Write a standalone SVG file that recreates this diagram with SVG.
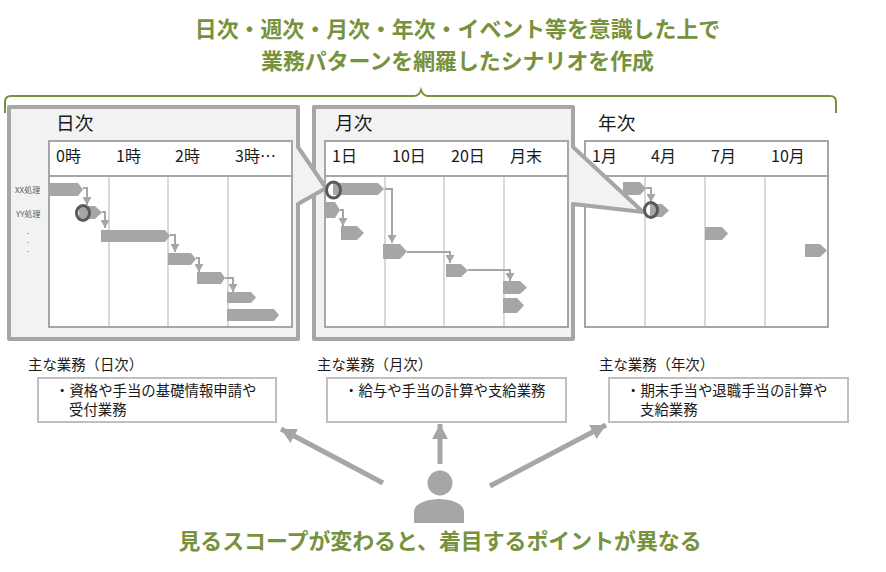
<svg xmlns="http://www.w3.org/2000/svg" width="886" height="572" viewBox="0 0 886 572">
<defs>
<style>
text{font-family:"Noto Sans CJK JP","Noto Sans",sans-serif;fill:#1a1a1a}
.h{font-size:21.9px;font-weight:700;fill:#76923c;text-anchor:middle}
.t{font-size:18.67px}
.c{font-size:16px}
.s{font-size:8px;fill:#595959}
.d{font-size:5.5px;font-weight:700;fill:#595959}
.l{font-size:14.4px}
.panel{fill:#f2f2f2;stroke:#a6a6a6;stroke-width:4;stroke-linejoin:round}
.grid{fill:#fff;stroke:#a6a6a6;stroke-width:2}
.hl{stroke:#a6a6a6;stroke-width:2;fill:none}
.vl{stroke:#d9d9d9;stroke-width:2;fill:none}
.bar{fill:#a6a6a6}
.box{fill:#fff;stroke:#bfbfbf;stroke-width:2}
.conn{fill:none;stroke:#a6a6a6;stroke-width:2;marker-end:url(#sm)}
.big{fill:none;stroke:#a6a6a6;stroke-width:5;marker-end:url(#lg)}
.mark{fill:none;stroke:#595959;stroke-width:3}
</style>
<marker id="sm" markerUnits="userSpaceOnUse" markerWidth="10" markerHeight="9" refX="8" refY="4.5" orient="auto"><path d="M0,0L8,4.5L0,9Z" fill="#a6a6a6"/></marker>
<marker id="lg" markerUnits="userSpaceOnUse" markerWidth="16" markerHeight="16" refX="15" refY="8" orient="auto"><path d="M0,0L15,8L0,16Z" fill="#a6a6a6"/></marker>
</defs>
<rect width="886" height="572" fill="#fff"/>
<g id="title"><text class="h" x="457.500" y="37">日次・週次・月次・年次・イベント等を意識した上で</text><text class="h" x="457.500" y="69">業務パターンを網羅したシナリオを作成</text></g>
<path id="brace" d="M5,113V102Q5,96 11,96H414Q419,96 421,90Q423,96 428,96H830Q836,96 836,102V113" fill="none" stroke="#76923c" stroke-width="2"/>
<g id="year">
<text class="t" x="598" y="130">年次</text>
<rect class="grid" x="585" y="141" width="243" height="186"/>
<path class="hl" d="M585,176H828"/><path class="vl" d="M645,177V326M705,177V326M765,177V326"/>
<text class="c" x="592" y="162">1月</text><text class="c" x="651" y="162">4月</text><text class="c" x="711" y="162">7月</text><text class="c" x="771" y="162">10月</text>
<path class="bar" d="M623,182H640L646,188.500L640,195H623Z"/><path class="bar" d="M650,204H662L669,210.500L662,217H650Z"/><path class="bar" d="M705,227H722L728,233.500L722,240H705Z"/><path class="bar" d="M805,244H820L827,250.500L820,257H805Z"/>
</g>
<g id="month">
<path class="panel" d="M314,107H573V147L643,212L573,204V339H314Z"/>
<text class="t" x="335" y="130">月次</text>
<rect class="grid" x="325" y="141" width="243" height="186"/>
<path class="hl" d="M325,176H568"/><path class="vl" d="M385,177V326M444,177V326M504,177V326"/>
<text class="c" x="332" y="162">1日</text><text class="c" x="392" y="162">10日</text><text class="c" x="451" y="162">20日</text><text class="c" x="510" y="162">月末</text>
<path class="bar" d="M333,183H378L384,189L378,195H333Z"/><path class="bar" d="M325,202H335L340,210L335,218H325Z"/><path class="bar" d="M341,226H357L364,233L357,240H341Z"/><path class="bar" d="M383,244H400L407,251.500L400,259H383Z"/><path class="bar" d="M446,264H461L468,270.500L461,277H446Z"/><path class="bar" d="M503,281H520L527,287.500L520,294H503Z"/><path class="bar" d="M503,298H517L524,305.500L517,313H503Z"/>
</g>
<g id="day">
<path class="panel" d="M9,107H298V147L326,188L298,204V339H9Z"/>
<text class="t" x="56" y="130">日次</text>
<rect class="grid" x="49" y="141" width="243" height="186"/>
<path class="hl" d="M49,176H292"/><path class="vl" d="M109,177V326M168,177V326M228,177V326"/>
<text class="c" x="56" y="162">0時</text><text class="c" x="116" y="162">1時</text><text class="c" x="175" y="162">2時</text><text class="c" x="235" y="162">3時…</text>
<text class="s" x="15" y="193">XX処理</text><text class="s" x="16" y="217">YY処理</text>
<text class="d" x="27" y="234">.</text><text class="d" x="27" y="243">.</text><text class="d" x="27" y="252">.</text>
<path class="bar" d="M50,183H78L83,189.500L78,196H50Z"/><path class="bar" d="M79,206H95L102,212.500L95,219H79Z"/><path class="bar" d="M101,230H165L170,236L165,242H101Z"/><path class="bar" d="M168,253H191L196,259L191,265H168Z"/><path class="bar" d="M197,272H221L225,278L221,284H197Z"/><path class="bar" d="M227,292H251L256,297.500L251,303H227Z"/><path class="bar" d="M227,309H274L279,315L274,321H227Z"/>
</g>
<g id="connectors">
<path class="conn" d="M83,188H87V205"/><path class="conn" d="M102,212H105V228"/><path class="conn" d="M170,235H175V252"/><path class="conn" d="M196,258H199V272"/><path class="conn" d="M225,278H233V292"/>
<path class="conn" d="M385,189H392V243"/><path class="conn" d="M340,210H343V226"/><path class="conn" d="M407,252H450V263"/><path class="conn" d="M468,270H510V281"/>
<path class="conn" d="M646,188H651V202"/>
<path class="big" d="M383,483L281,429"/><path class="big" d="M440,464V424"/><path class="big" d="M490,486L606,425"/>
</g>
<g id="marks"><ellipse class="mark" cx="83" cy="213" rx="6.500" ry="7.500"/><ellipse class="mark" cx="333.500" cy="190" rx="7" ry="8"/><ellipse class="mark" cx="651" cy="210" rx="6.500" ry="7.500"/></g>
<g id="notes-day"><text class="l" x="28" y="370">主な業務（日次）</text><rect class="box" x="38" y="378" width="238" height="44"/><text class="l" x="55" y="396">・資格や手当の基礎情報申請や</text><text class="l" x="69" y="415">受付業務</text></g>
<g id="notes-month"><text class="l" x="317" y="370">主な業務（月次）</text><rect class="box" x="327" y="378" width="239" height="44"/><text class="l" x="344" y="396">・給与や手当の計算や支給業務</text></g>
<g id="notes-year"><text class="l" x="599" y="370">主な業務（年次）</text><rect class="box" x="609" y="378" width="239" height="44"/><text class="l" x="626" y="396">・期末手当や退職手当の計算や</text><text class="l" x="640" y="415">支給業務</text></g>
<g id="person"><circle cx="440" cy="483" r="12.500" fill="#a6a6a6"/><path d="M414,523V512C414,503 428,499 439,499C450,499 464,503 464,512V523Z" fill="#a6a6a6"/></g>
<text id="caption" class="h" x="440" y="549">見るスコープが変わると、着目するポイントが異なる</text>
</svg>
